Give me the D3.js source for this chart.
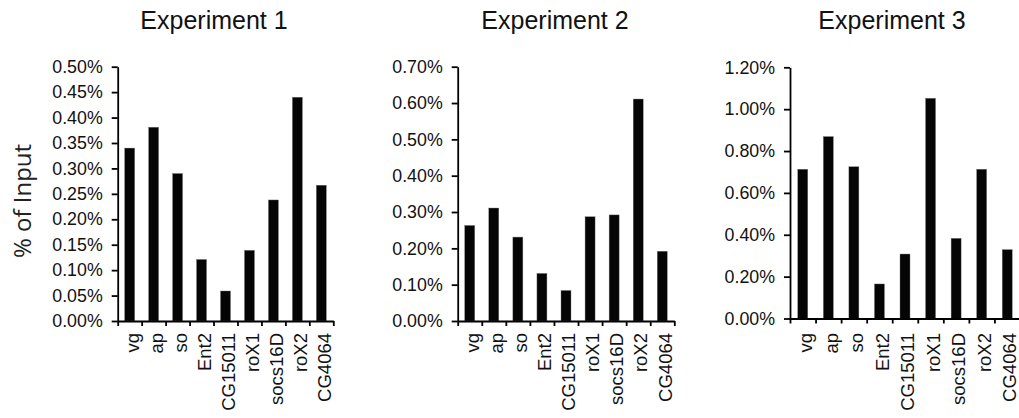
<!DOCTYPE html>
<html>
<head>
<meta charset="utf-8">
<style>
  body { margin: 0; background: #fff; }
  svg { display: block; }
  .tick text { font-family: Arial, "Liberation Sans", sans-serif; fill: #111; }
</style>
</head>
<body>
<svg width="1019" height="418"></svg>
<script src="https://d3js.org/d3.v7.min.js"></script>
<script>
// genes on the x axis, same order in every experiment
var genes = ["vg", "ap", "so", "Ent2", "CG15011", "roX1", "socs16D", "roX2", "CG4064"];

// % of input
var exp1 = [0.340, 0.381, 0.290, 0.121, 0.059, 0.139, 0.238, 0.440, 0.267];
var exp2 = [0.263, 0.311, 0.231, 0.131, 0.084, 0.287, 0.292, 0.611, 0.192];
var exp3 = [0.713, 0.869, 0.725, 0.165, 0.308, 1.052, 0.383, 0.713, 0.329];

var titles = ["Experiment 1", "Experiment 2", "Experiment 3"];
var yMax = [0.50, 0.70, 1.20];
var yStep = [0.05, 0.10, 0.20];

var series = [exp1, exp2, exp3];

// where each panel sits on the page (px)
var layout = [
  { left: 117.7, right: 333.3, top: 66.7, bottom: 321, titleX: 214 },
  { left: 457.7, right: 674.3, top: 66.7, bottom: 321, titleX: 555 },
  { left: 790,   right: 1020,  top: 67.3, bottom: 318.5, titleX: 892 }
];

var svg = d3.select("svg");

series.forEach(function(values, p) {
  var L = layout[p];
  var g = svg.append("g");

  var step = (L.right - L.left) / genes.length;
  var pad = 1 - 10 / step;   // bars are about 10px wide everywhere

  var x = d3.scaleBand()
      .domain(genes)
      .range([L.left, L.right])
      .paddingInner(pad)
      .paddingOuter(pad / 2);

  // tick marks sit between the bars
  var xEdge = d3.scaleLinear().domain([0, genes.length]).range([L.left, L.right]);

  var y = d3.scaleLinear().domain([0, yMax[p]]).range([L.bottom, L.top]);

  // bars
  g.selectAll("rect")
    .data(values)
    .enter().append("rect")
      .attr("x", function(d, i) { return x(genes[i]); })
      .attr("y", function(d) { return y(d); })
      .attr("width", x.bandwidth())
      .attr("height", function(d) { return y(0) - y(d); })
      .attr("fill", "#050505")
      .attr("stroke", "#777")
      .attr("stroke-width", 0.4);

  // y axis
  var yAxis = g.append("g")
      .attr("transform", "translate(" + L.left + ",0)")
      .call(d3.axisLeft(y)
        .tickValues(d3.range(0, yMax[p] + yStep[p] / 2, yStep[p]))
        .tickFormat(function(d) { return d.toFixed(2) + "%"; })
        .tickSize(6)
        .tickSizeOuter(0)
        .tickPadding(9));
  yAxis.selectAll("text").attr("font-size", 17.8);

  // x axis line + ticks at the band edges
  g.append("g")
      .attr("transform", "translate(0," + L.bottom + ")")
      .call(d3.axisBottom(xEdge)
        .tickValues(d3.range(0, genes.length + 1))
        .tickFormat("")
        .tickSize(5)
        .tickSizeOuter(0));

  // gene names, rotated
  var xLab = g.append("g")
      .attr("transform", "translate(0," + L.bottom + ")")
      .call(d3.axisBottom(x).tickSize(0).tickPadding(0));
  xLab.select(".domain").remove();
  xLab.selectAll("text")
      .attr("font-size", 18.5)
      .attr("text-anchor", "end")
      .attr("transform", "rotate(-90)")
      .attr("x", -(333 - L.bottom))
      .attr("y", 0)
      .attr("dy", "0.5em");

  g.selectAll(".domain, .tick line")
      .attr("stroke", "#000")
      .attr("stroke-width", 1.8);

  // panel title
  g.append("text")
      .attr("x", L.titleX)
      .attr("y", 29)
      .attr("text-anchor", "middle")
      .attr("font-family", "Arial, 'Liberation Sans', sans-serif")
      .attr("font-size", 25)
      .attr("fill", "#111")
      .text(titles[p]);
});

// shared y label
svg.append("text")
    .attr("transform", "translate(31,201) rotate(-90)")
    .attr("text-anchor", "middle")
    .attr("font-family", "'Open Sans', sans-serif")
    .attr("font-size", 24)
    .attr("fill", "#222")
    .text("% of Input");
</script>
</body>
</html>
